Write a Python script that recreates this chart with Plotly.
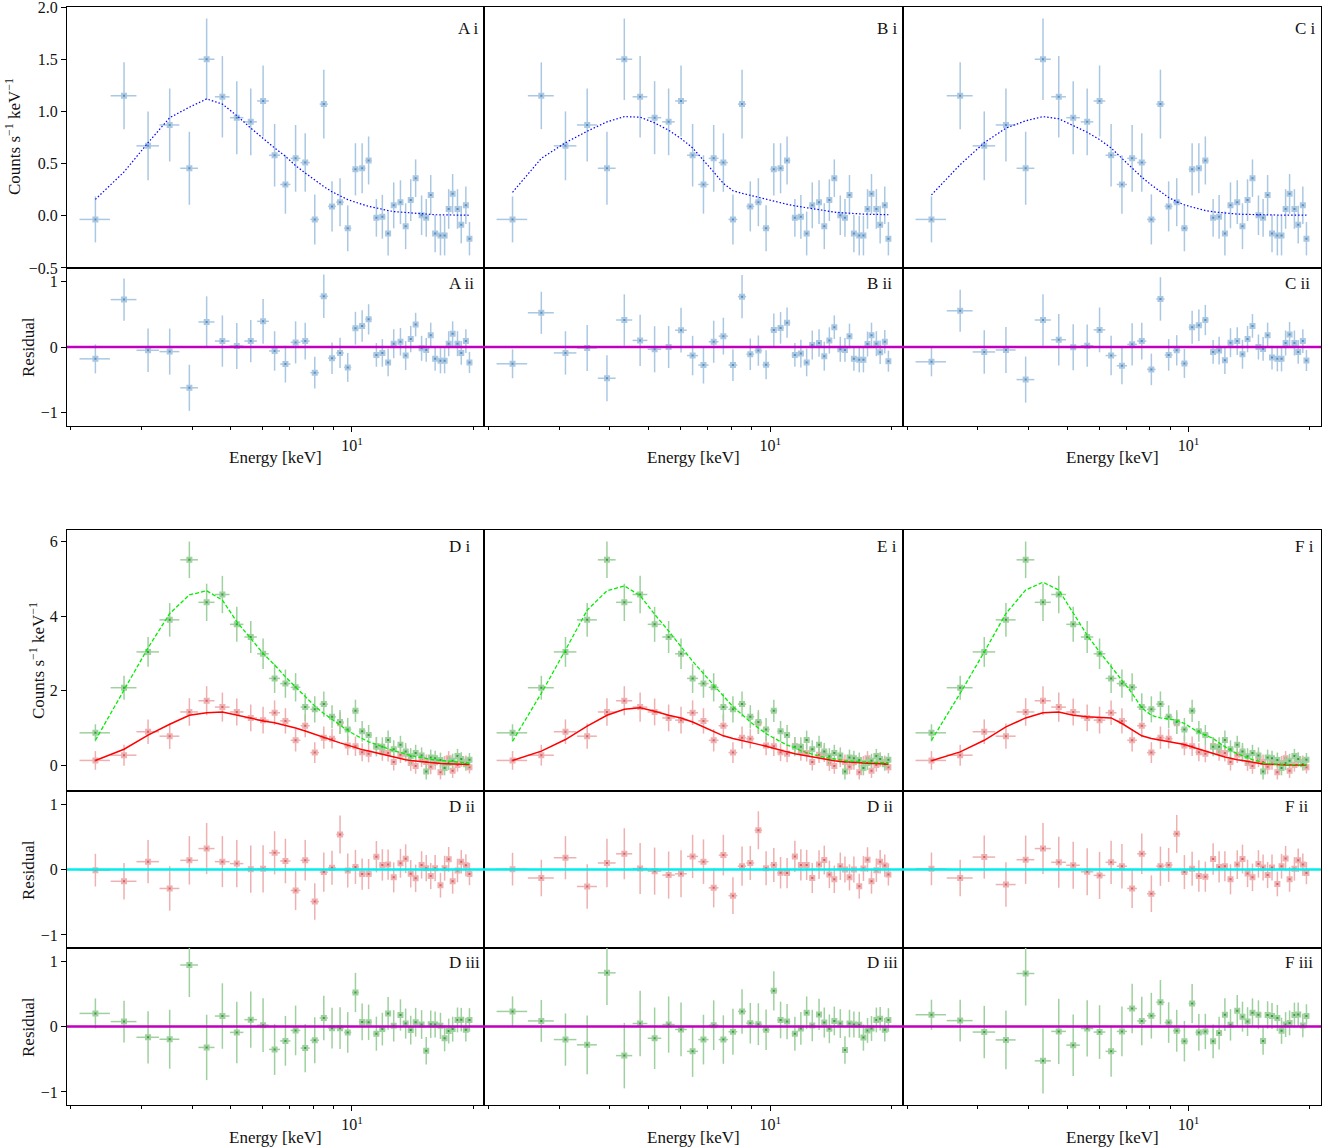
import plotly.graph_objects as go

# ---------------- data ----------------
energy = [2.30, 2.71, 3.11, 3.52, 3.94, 4.35, 4.76, 5.17, 5.60, 6.01, 6.42, 6.83, 7.24, 7.65,
          8.08, 8.51, 8.92, 9.34, 9.76, 10.2, 10.6, 11.0, 11.5, 11.9, 12.3, 12.7, 13.2, 13.6,
          14.0, 14.4, 14.9, 15.3, 15.7, 16.1, 16.6, 17.0, 17.4, 17.8, 18.3, 18.7, 19.2, 19.6]
x_halfwidth = [0.2] * len(energy)

# top group (A, B, C) share one spectrum
top_counts = [-0.035, 1.15, 0.67, 0.87, 0.455, 1.50, 1.14, 0.94, 0.90, 1.10, 0.58, 0.30, 0.55, 0.51,
              -0.035, 1.07, 0.09, 0.13, -0.12, 0.445, 0.455, 0.53, -0.02, -0.01, -0.17, 0.10, 0.13, -0.10,
              0.15, 0.36, 0.005, -0.02, 0.20, -0.17, -0.19, -0.19, 0.065, 0.21, 0.065, -0.085, 0.10, -0.22]
top_err = [0.22, 0.32, 0.33, 0.35, 0.35, 0.39, 0.39, 0.35, 0.32, 0.34, 0.30, 0.28, 0.32, 0.28,
           0.24, 0.33, 0.24, 0.23, 0.22, 0.25, 0.24, 0.23, 0.18, 0.21, 0.21, 0.22, 0.21, 0.22,
           0.20, 0.18, 0.19, 0.18, 0.19, 0.18, 0.19, 0.19, 0.19, 0.19, 0.19, 0.18, 0.18, 0.16]

model_A = [0.157, 0.42, 0.70, 0.94, 1.04, 1.12, 1.07, 0.96, 0.84, 0.74, 0.65, 0.57, 0.48, 0.41,
           0.34, 0.28, 0.23, 0.19, 0.155, 0.13, 0.11, 0.09, 0.075, 0.06, 0.05, 0.04, 0.035, 0.03,
           0.025, 0.02, 0.017, 0.014, 0.012, 0.01, 0.009, 0.008, 0.007, 0.006, 0.006, 0.005, 0.005, 0.005]
model_B = [0.225, 0.55, 0.70, 0.81, 0.90, 0.95, 0.945, 0.89, 0.82, 0.74, 0.65, 0.535, 0.42, 0.31,
           0.24, 0.215, 0.195, 0.175, 0.16, 0.14, 0.125, 0.11, 0.095, 0.085, 0.075, 0.065, 0.055, 0.048,
           0.042, 0.035, 0.03, 0.026, 0.022, 0.02, 0.018, 0.016, 0.015, 0.013, 0.012, 0.011, 0.01, 0.01]
model_C = [0.20, 0.49, 0.70, 0.84, 0.91, 0.95, 0.93, 0.86, 0.80, 0.73, 0.65, 0.55, 0.455, 0.37,
           0.295, 0.23, 0.175, 0.135, 0.105, 0.083, 0.064, 0.05, 0.038, 0.032, 0.022, 0.019, 0.016, 0.014,
           0.012, 0.011, 0.01, 0.009, 0.008, 0.008, 0.007, 0.007, 0.006, 0.006, 0.006, 0.006, 0.006, 0.006]

resid_A = [-0.18, 0.72, -0.05, -0.07, -0.62, 0.38, 0.09, 0.015, 0.09, 0.39, -0.06, -0.26, 0.07, 0.09,
           -0.39, 0.77, -0.17, -0.09, -0.31, 0.285, 0.32, 0.42, -0.12, -0.09, -0.235, 0.05, 0.08, -0.13,
           0.12, 0.34, -0.02, -0.045, 0.18, -0.18, -0.21, -0.21, 0.05, 0.20, 0.05, -0.09, 0.09, -0.235]
resid_B = [-0.255, 0.52, -0.09, -0.015, -0.475, 0.41, 0.10, -0.035, 0.0, 0.255, -0.13, -0.275, 0.08, 0.165,
           -0.275, 0.765, -0.11, -0.055, -0.27, 0.26, 0.29, 0.37, -0.12, -0.10, -0.235, 0.03, 0.06, -0.14,
           0.10, 0.30, -0.035, -0.045, 0.165, -0.18, -0.195, -0.195, 0.045, 0.18, 0.05, -0.08, 0.08, -0.215]
resid_C = [-0.225, 0.55, -0.075, -0.045, -0.495, 0.41, 0.11, -0.005, 0.02, 0.26, -0.13, -0.285, 0.04, 0.09,
           -0.34, 0.73, -0.12, -0.05, -0.25, 0.30, 0.33, 0.41, -0.075, -0.055, -0.20, 0.065, 0.09, -0.11,
           0.12, 0.32, 0.0, -0.03, 0.18, -0.16, -0.18, -0.18, 0.06, 0.19, 0.06, -0.075, 0.09, -0.205]

# bottom group (D, E, F) share two spectra
red_counts = [0.13, 0.27, 0.90, 0.78, 1.43, 1.73, 1.56, 1.43, 1.27, 1.21, 1.41, 1.19, 0.67, 1.06,
              0.34, 0.74, 0.71, 1.13, 0.53, 0.51, 0.35, 0.31, 0.52, 0.36, 0.33, 0.09, 0.28, 0.31,
              0.06, -0.02, 0.16, 0.09, -0.04, 0.08, -0.19, 0.06, 0.19, -0.15, 0.01, 0.14, 0.09, -0.05]
red_err = [0.25, 0.28, 0.33, 0.34, 0.37, 0.39, 0.39, 0.36, 0.36, 0.36, 0.33, 0.34, 0.30, 0.31,
           0.28, 0.30, 0.26, 0.29, 0.26, 0.26, 0.24, 0.23, 0.24, 0.24, 0.23, 0.23, 0.22, 0.22,
           0.21, 0.21, 0.21, 0.20, 0.20, 0.20, 0.19, 0.19, 0.19, 0.19, 0.18, 0.18, 0.17, 0.17]
green_counts = [0.87, 2.08, 3.04, 3.90, 5.51, 4.37, 4.58, 3.78, 3.44, 2.99, 2.33, 2.19, 2.09, 1.56,
                1.50, 1.64, 1.30, 1.16, 0.96, 1.46, 0.91, 0.81, 0.50, 0.50, 0.68, 0.43, 0.55, 0.37,
                0.24, 0.33, 0.26, -0.17, 0.21, 0.19, 0.14, -0.07, 0.06, 0.12, 0.25, 0.17, 0.03, 0.15]
green_err = [0.23, 0.32, 0.40, 0.45, 0.49, 0.50, 0.50, 0.47, 0.43, 0.41, 0.39, 0.38, 0.38, 0.37,
             0.35, 0.34, 0.31, 0.32, 0.31, 0.30, 0.28, 0.27, 0.26, 0.25, 0.25, 0.24, 0.24, 0.23,
             0.22, 0.22, 0.22, 0.21, 0.21, 0.20, 0.20, 0.20, 0.19, 0.19, 0.19, 0.18, 0.18, 0.18]

red_model_D = [0.13, 0.43, 0.81, 1.10, 1.34, 1.41, 1.43, 1.34, 1.25, 1.19, 1.14, 1.07, 1.00, 0.92,
               0.83, 0.74, 0.67, 0.60, 0.54, 0.47, 0.42, 0.38, 0.33, 0.29, 0.25, 0.21, 0.18, 0.15,
               0.125, 0.11, 0.09, 0.07, 0.06, 0.055, 0.045, 0.04, 0.035, 0.03, 0.025, 0.02, 0.02, 0.02]
green_model_D = [0.67, 2.00, 3.15, 4.07, 4.57, 4.68, 4.43, 3.85, 3.40, 3.00, 2.69, 2.37, 2.10, 1.84,
                 1.59, 1.39, 1.23, 1.07, 0.93, 0.81, 0.71, 0.63, 0.56, 0.49, 0.44, 0.39, 0.34, 0.30,
                 0.26, 0.23, 0.21, 0.18, 0.16, 0.145, 0.13, 0.11, 0.10, 0.09, 0.08, 0.07, 0.065, 0.06]
red_model_E = [0.13, 0.38, 0.69, 1.05, 1.34, 1.50, 1.54, 1.45, 1.34, 1.27, 1.16, 1.03, 0.90, 0.79,
               0.72, 0.67, 0.62, 0.56, 0.51, 0.45, 0.39, 0.36, 0.31, 0.28, 0.24, 0.21, 0.18, 0.15,
               0.13, 0.12, 0.10, 0.09, 0.08, 0.07, 0.065, 0.06, 0.055, 0.05, 0.045, 0.04, 0.035, 0.03]
green_model_E = [0.645, 1.93, 3.09, 4.16, 4.68, 4.81, 4.55, 4.05, 3.60, 3.18, 2.79, 2.46, 2.15, 1.84,
                 1.57, 1.36, 1.16, 1.00, 0.85, 0.73, 0.63, 0.54, 0.47, 0.39, 0.34, 0.29, 0.25, 0.215,
                 0.19, 0.16, 0.14, 0.125, 0.11, 0.10, 0.095, 0.09, 0.085, 0.08, 0.075, 0.07, 0.07, 0.07]
red_model_F = [0.12, 0.36, 0.67, 1.03, 1.27, 1.41, 1.43, 1.34, 1.30, 1.29, 1.27, 1.12, 0.94, 0.79,
               0.72, 0.67, 0.63, 0.60, 0.555, 0.49, 0.43, 0.38, 0.32, 0.27, 0.22, 0.18, 0.15, 0.125,
               0.10, 0.07, 0.055, 0.035, 0.027, 0.02, 0.02, 0.015, 0.015, 0.01, 0.01, 0.01, 0.01, 0.01]
green_model_F = [0.67, 1.93, 3.04, 4.07, 4.70, 4.91, 4.70, 4.07, 3.49, 3.04, 2.64, 2.28, 1.93, 1.54,
                 1.34, 1.27, 1.24, 1.21, 1.12, 0.985, 0.88, 0.81, 0.72, 0.60, 0.49, 0.40, 0.31, 0.25,
                 0.20, 0.15, 0.11, 0.07, 0.045, 0.035, 0.025, 0.025, 0.02, 0.02, 0.02, 0.02, 0.02, 0.02]

red_resid_D = [-0.01, -0.18, 0.12, -0.29, 0.14, 0.32, 0.12, 0.09, 0.005, 0.01, 0.255, 0.13, -0.32, 0.14,
               -0.49, -0.04, 0.025, 0.535, -0.015, 0.04, -0.07, -0.07, 0.195, 0.07, 0.075, -0.12, 0.095, 0.165,
               -0.065, -0.135, 0.07, 0.02, -0.10, 0.02, -0.24, 0.02, 0.155, -0.18, -0.015, 0.12, 0.065, -0.07]
green_resid_D = [0.20, 0.075, -0.165, -0.195, 0.94, -0.32, 0.16, -0.09, 0.105, 0.02, -0.35, -0.22, -0.06, -0.33,
                 -0.21, 0.13, -0.025, -0.025, -0.09, 0.52, 0.07, 0.065, -0.11, -0.04, 0.20, 0.01, 0.175, 0.045,
                 -0.055, 0.065, 0.03, -0.37, 0.035, 0.03, 0.01, -0.18, -0.07, -0.04, 0.10, 0.105, -0.05, 0.10]
red_resid_E = [0.005, -0.13, 0.18, -0.26, 0.10, 0.24, 0.015, -0.025, -0.085, -0.065, 0.20, 0.12, -0.28, 0.22,
               -0.40, 0.05, 0.10, 0.60, 0.02, 0.07, -0.05, -0.055, 0.20, 0.07, 0.07, -0.13, 0.075, 0.145,
               -0.075, -0.15, 0.05, 0.0, -0.12, 0.0, -0.255, 0.015, 0.15, -0.18, -0.01, 0.12, 0.06, -0.075]
green_resid_E = [0.23, 0.085, -0.20, -0.28, 0.82, -0.445, 0.045, -0.18, 0.03, -0.045, -0.38, -0.20, 0.02, -0.20,
                 -0.08, 0.23, 0.05, 0.035, -0.05, 0.545, 0.10, 0.075, -0.11, -0.03, 0.21, 0.015, 0.185, 0.06,
                 -0.035, 0.085, 0.045, -0.36, 0.045, 0.03, 0.025, -0.17, -0.06, -0.03, 0.10, 0.12, -0.05, 0.10]
red_resid_F = [0.01, -0.13, 0.19, -0.23, 0.15, 0.32, 0.11, 0.065, -0.035, -0.09, 0.11, 0.05, -0.29, 0.24,
               -0.37, 0.05, 0.07, 0.545, -0.04, 0.01, -0.10, -0.11, 0.16, 0.04, 0.05, -0.15, 0.075, 0.16,
               -0.06, -0.12, 0.085, 0.03, -0.085, 0.03, -0.22, 0.05, 0.17, -0.15, 0.01, 0.14, 0.075, -0.055]
green_resid_F = [0.18, 0.09, -0.085, -0.205, 0.81, -0.525, -0.075, -0.285, -0.03, -0.085, -0.38, -0.075, 0.275, 0.085,
                 0.165, 0.37, 0.06, -0.065, -0.225, 0.35, -0.09, -0.075, -0.225, -0.10, 0.18, 0.025, 0.24, 0.15,
                 0.075, 0.21, 0.18, -0.22, 0.175, 0.16, 0.13, -0.065, 0.03, 0.055, 0.175, 0.185, 0.015, 0.16]

panel_labels_top = [("A i", "A ii"), ("B i", "B ii"), ("C i", "C ii")]
panel_labels_bot = [("D i", "D ii", "D iii"), ("E i", "D ii", "D iii"), ("F i", "F ii", "F iii")]

# ---------------- style / layout ----------------
W, H = 1333, 1148
FONT = "Liberation Serif"
BLUE_L, BLUE_D = "#abc8e2", "#5a8ec0"
RED_L, RED_D = "#eeb0b0", "#d85f5f"
GRN_L, GRN_D = "#9fd09f", "#3c9c3c"
MAGENTA, CYAN = "#bf00bf", "#00eeee"

COLS = [(67, 484), (484, 903), (903, 1321)]
TOP_ROWS = [(7, 268), (268, 426)]
BOT_ROWS = [(530, 791), (791, 948), (948, 1105)]
XRANGE = [0.2911, 1.3284]


def fx(p):
    return p / W


def fy(p):
    return 1 - p / H


fig = go.Figure()
layout = dict(template="none", width=W, height=H, margin=dict(l=0, r=0, t=0, b=0, pad=0), autosize=False,
              paper_bgcolor="white", plot_bgcolor="white", showlegend=False,
              font=dict(family=FONT, size=16, color="#111"))
shapes, annotations = [], []
idx = [0]


def add_panel(col, rowpx, yrange, yticks, bottom, label, label_px):
    idx[0] += 1
    i = idx[0]
    xk = "xaxis" if i == 1 else f"xaxis{i}"
    yk = "yaxis" if i == 1 else f"yaxis{i}"
    xr = "x" if i == 1 else f"x{i}"
    yr = "y" if i == 1 else f"y{i}"
    c0, c1 = COLS[col]
    r0, r1 = rowpx
    xa = dict(domain=[fx(c0), fx(c1)], anchor=yr, type="log", range=XRANGE, automargin=False,
              showline=True, mirror=True, linecolor="black", linewidth=1.2,
              showgrid=False, zeroline=False, fixedrange=True)
    if bottom:
        xa.update(ticks="outside", ticklen=5, tickwidth=1, tickcolor="black",
                  tickmode="array", tickvals=[10], ticktext=["10<sup>1</sup>"],
                  tickfont=dict(family=FONT, size=16, color="#111"), ticklabeloverflow="allow",
                  minor=dict(tickmode="array", tickvals=[2, 3, 4, 5, 6, 7, 8, 9, 20],
                             ticks="outside", ticklen=3, tickwidth=1, tickcolor="black", showgrid=False))
    else:
        xa.update(showticklabels=False, ticks="")
    ya = dict(domain=[fy(r1), fy(r0)], anchor=xr, range=yrange, automargin=False,
              showline=True, mirror=True, linecolor="black", linewidth=1.2,
              showgrid=False, zeroline=False, fixedrange=True)
    if col == 0:
        ya.update(ticks="outside", ticklen=5, tickwidth=1, tickcolor="black",
                  tickmode="array", tickvals=yticks[0], ticktext=yticks[1], ticklabeloverflow="allow",
                  tickfont=dict(family=FONT, size=16, color="#111"))
    else:
        ya.update(showticklabels=False, ticks="")
    layout[xk] = xa
    layout[yk] = ya
    annotations.append(dict(text=label, xref="paper", yref="paper", x=fx(label_px[0]), y=fy(label_px[1]),
                            xanchor="left", yanchor="middle", showarrow=False,
                            font=dict(family=FONT, size=17, color="#111")))
    return xr, yr, i


def data_trace(xr, yr, y, err, light, dark):
    return go.Scatter(x=energy, y=y, xaxis=xr, yaxis=yr, mode="markers",
                      error_x=dict(type="data", array=x_halfwidth, color=light, thickness=1.5, width=0),
                      error_y=dict(type="data", array=err, color=light, thickness=1.5, width=0),
                      marker=dict(symbol="square", size=4, color=dark, line=dict(color=light, width=2)),
                      hoverinfo="skip")


def line_trace(xr, yr, y, color, width, dash):
    return go.Scatter(x=energy, y=y, xaxis=xr, yaxis=yr, mode="lines",
                      line=dict(color=color, width=width, dash=dash), hoverinfo="skip")


def zero_line(i, color):
    xref = "x domain" if i == 1 else f"x{i} domain"
    yref = "y" if i == 1 else f"y{i}"
    shapes.append(dict(type="line", xref=xref, yref=yref, x0=0, x1=1, y0=0, y1=0,
                       line=dict(color=color, width=2.5), layer="above"))


SPEC_TOP_TICKS = ([-0.5, 0, 0.5, 1.0, 1.5, 2.0], ["\u22120.5", "0.0", "0.5", "1.0", "1.5", "2.0"])
RES_TICKS = ([-1, 0, 1], ["\u22121", "0", "1"])
SPEC_BOT_TICKS = ([0, 2, 4, 6], ["0", "2", "4", "6"])

top_models = [model_A, model_B, model_C]
top_resids = [resid_A, resid_B, resid_C]
label_x_i = [456, 875, 1293]
label_x_ii = [447, 865, 1283]

for c in range(3):
    xr, yr, i = add_panel(c, TOP_ROWS[0], [-0.5005, 2.0005], SPEC_TOP_TICKS, False,
                          panel_labels_top[c][0], (label_x_i[c], 29))
    fig.add_trace(data_trace(xr, yr, top_counts, top_err, BLUE_L, BLUE_D))
    fig.add_trace(line_trace(xr, yr, top_models[c], "#0000ff", 1.2, "1.5px,2px"))
    xr, yr, i = add_panel(c, TOP_ROWS[1], [-1.2, 1.2], RES_TICKS, True,
                          panel_labels_top[c][1], (label_x_ii[c], 283))
    fig.add_trace(data_trace(xr, yr, top_resids[c], top_err, BLUE_L, BLUE_D))
    zero_line(i, MAGENTA)

red_models = [red_model_D, red_model_E, red_model_F]
green_models = [green_model_D, green_model_E, green_model_F]
red_resids = [red_resid_D, red_resid_E, red_resid_F]
green_resids = [green_resid_D, green_resid_E, green_resid_F]
blabel_x_i = [447, 875, 1293]
blabel_x_ii = [447, 865, 1283]

for c in range(3):
    xr, yr, i = add_panel(c, BOT_ROWS[0], [-0.69, 6.31], SPEC_BOT_TICKS, False,
                          panel_labels_bot[c][0], (blabel_x_i[c], 546))
    fig.add_trace(data_trace(xr, yr, red_counts, red_err, RED_L, RED_D))
    fig.add_trace(data_trace(xr, yr, green_counts, green_err, GRN_L, GRN_D))
    fig.add_trace(line_trace(xr, yr, red_models[c], "#ff0000", 1.5, "solid"))
    fig.add_trace(line_trace(xr, yr, green_models[c], "#00ee00", 1.3, "4px,2px"))
    xr, yr, i = add_panel(c, BOT_ROWS[1], [-1.2, 1.2], RES_TICKS, False,
                          panel_labels_bot[c][1], (blabel_x_ii[c], 806))
    fig.add_trace(data_trace(xr, yr, red_resids[c], red_err, RED_L, RED_D))
    zero_line(i, CYAN)
    xr, yr, i = add_panel(c, BOT_ROWS[2], [-1.2, 1.2], RES_TICKS, True,
                          panel_labels_bot[c][2], (blabel_x_ii[c], 962))
    fig.add_trace(data_trace(xr, yr, green_resids[c], green_err, GRN_L, GRN_D))
    zero_line(i, MAGENTA)

# axis titles
counts_title = "Counts s<sup>\u22121</sup> keV<sup>\u22121</sup>"
for (x, y, t) in [(13, 137, counts_title), (37, 661, counts_title),
                  (28, 347, "Residual"), (28, 870, "Residual"), (28, 1027, "Residual")]:
    annotations.append(dict(text=t, xref="paper", yref="paper", x=fx(x), y=fy(y), textangle=-90,
                            xanchor="center", yanchor="middle", showarrow=False,
                            font=dict(family=FONT, size=17, color="#111")))
for (c0, c1) in COLS:
    for yy in (457, 1137):
        annotations.append(dict(text="Energy [keV]", xref="paper", yref="paper", x=fx((c0 + c1) / 2),
                                y=fy(yy), xanchor="center", yanchor="middle", showarrow=False,
                                font=dict(family=FONT, size=17, color="#111")))

layout["shapes"] = shapes
layout["annotations"] = annotations
fig.update_layout(**layout)
fig.write_html("out.html", config={"displayModeBar": False},
               post_script="document.body.style.margin='0px';document.body.style.padding='0px';")
